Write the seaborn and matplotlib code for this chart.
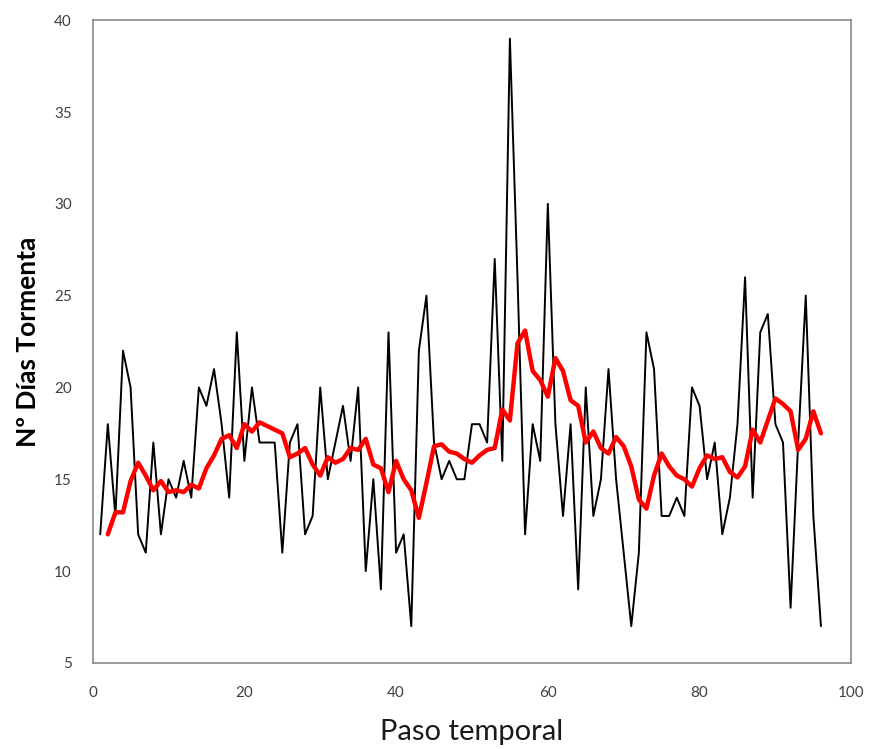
import pandas as pd
import seaborn as sns
import matplotlib.pyplot as plt

# Observed storm days per time step (black) and smoothed series (red)
pasos = list(range(1, 97))
dias = [12, 18, 13, 22, 20, 12, 11, 17, 12, 15, 14, 16, 14, 20, 19, 21, 18, 14, 23, 16,
        20, 17, 17, 17, 11, 17, 18, 12, 13, 20, 15, 17, 19, 16, 20, 10, 15, 9, 23, 11,
        12, 7, 22, 25, 17, 15, 16, 15, 15, 18, 18, 17, 27, 16, 39, 26, 12, 18, 16, 30,
        18, 13, 18, 9, 20, 13, 15, 21, 15, 11, 7, 11, 23, 21, 13, 13, 14, 13, 20, 19,
        15, 17, 12, 14, 18, 26, 14, 23, 24, 18, 17, 8, 17, 25, 13, 7]

pasos_suav = list(range(2, 97))
suavizado = [12.0, 13.2, 13.2, 14.9, 15.9, 15.2, 14.4, 14.9, 14.3, 14.4, 14.3, 14.7, 14.5,
             15.6, 16.3, 17.2, 17.4, 16.7, 18.0, 17.6, 18.1, 17.9, 17.7, 17.5, 16.2, 16.4,
             16.7, 15.8, 15.2, 16.2, 15.9, 16.1, 16.7, 16.6, 17.2, 15.8, 15.6, 14.3, 16.0,
             15.0, 14.4, 12.9, 14.8, 16.8, 16.9, 16.5, 16.4, 16.1, 15.9, 16.3, 16.6, 16.7,
             18.8, 18.2, 22.4, 23.1, 20.9, 20.4, 19.5, 21.6, 20.9, 19.3, 19.0, 17.0, 17.6,
             16.7, 16.4, 17.3, 16.8, 15.7, 13.9, 13.4, 15.2, 16.4, 15.7, 15.2, 15.0, 14.6,
             15.6, 16.3, 16.1, 16.2, 15.4, 15.1, 15.7, 17.7, 17.0, 18.2, 19.4, 19.1, 18.7,
             16.6, 17.2, 18.7, 17.5]

df_obs = pd.DataFrame({'paso': pasos, 'dias': dias})
df_suav = pd.DataFrame({'paso': pasos_suav, 'dias': suavizado})

sns.set_style('white')
plt.rcParams['font.family'] = ['Lato', 'DejaVu Sans']

fig = plt.figure(figsize=(8.74, 7.49), dpi=100)
ax = fig.add_axes([0.106, 0.115, 0.868, 0.858])

sns.lineplot(data=df_obs, x='paso', y='dias', color='black', linewidth=1.4, ax=ax)
sns.lineplot(data=df_suav, x='paso', y='dias', color='#ff0000', linewidth=3.2, ax=ax)

ax.set_xlim(0, 100)
ax.set_ylim(5, 40)
ax.set_xticks([0, 20, 40, 60, 80, 100])
ax.set_yticks([5, 10, 15, 20, 25, 30, 35, 40])

grey = '#898989'
for s in ax.spines.values():
    s.set_color(grey)
    s.set_linewidth(1.2)
ax.tick_params(axis='x', direction='inout', length=9, width=1.2, color=grey,
               labelsize=11, labelcolor='#404040', pad=12)
ax.tick_params(axis='y', direction='out', length=5, width=1.2, color=grey,
               labelsize=11, labelcolor='#404040', pad=10)

ax.set_xlabel('Paso temporal', fontsize=21, color='#1a1a1a', labelpad=14)
ax.set_ylabel('Nº Días Tormenta', fontsize=19, fontweight='bold', color='black', labelpad=10)

fig.savefig('out.png', dpi=100)
